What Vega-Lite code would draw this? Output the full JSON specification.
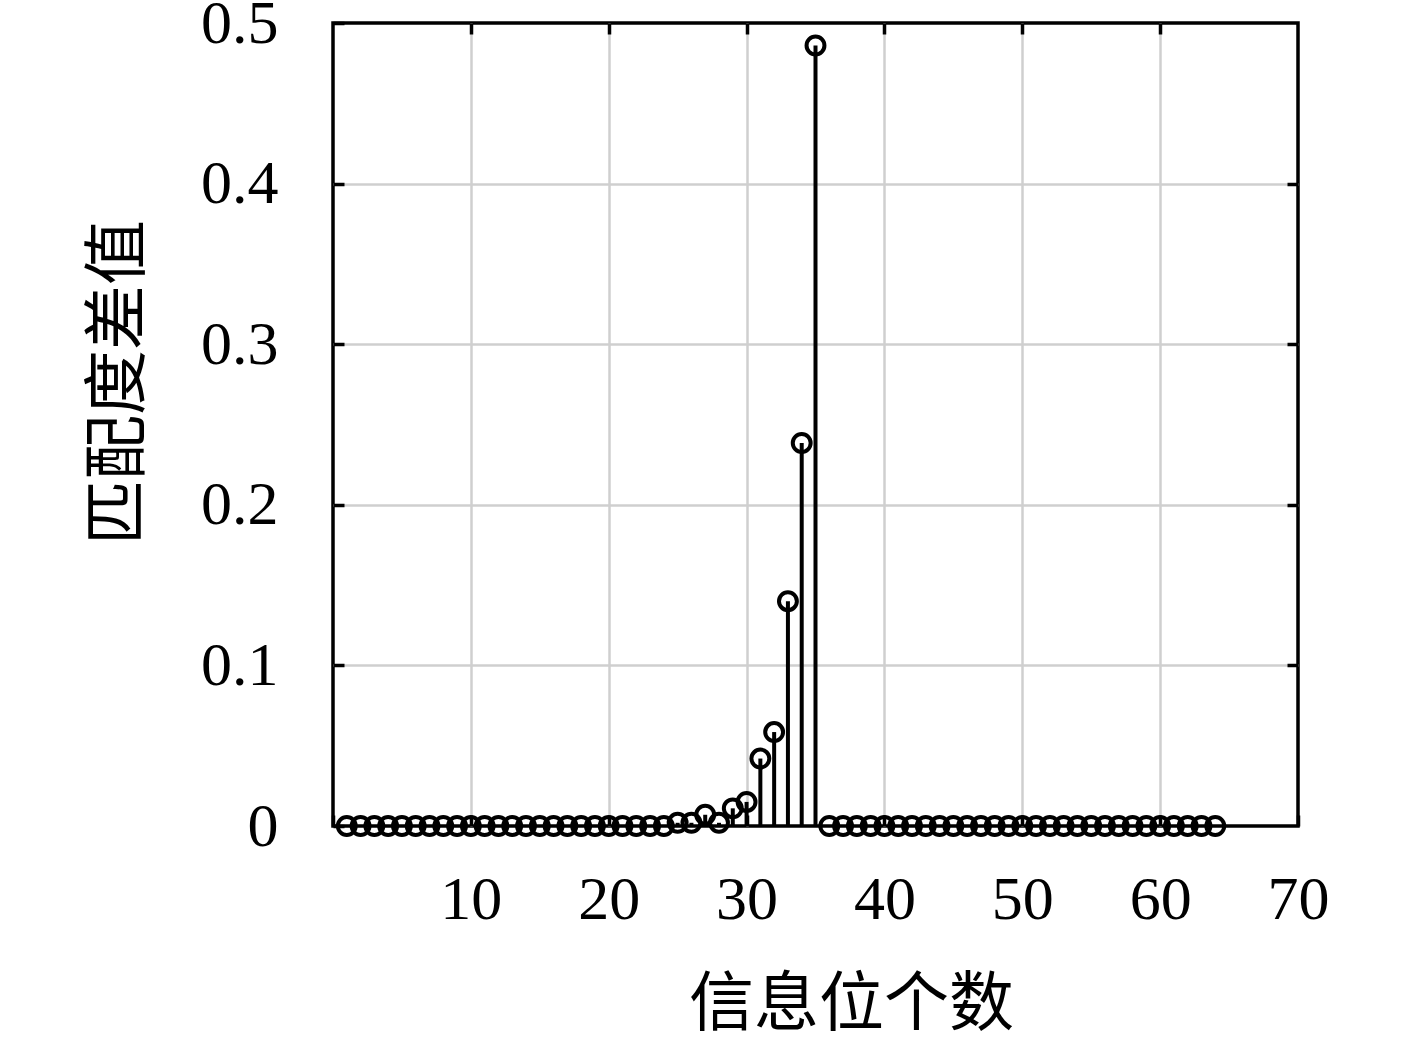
{
  "$schema": "https://vega.github.io/schema/vega-lite/v6.json",
  "width": 965,
  "height": 803,
  "autosize": "none",
  "padding": {"left": 333, "top": 23, "right": 119, "bottom": 213},
  "background": "white",
  "view": {"stroke": "#000000", "strokeWidth": 3.5},
  "config": {
    "view": {"stroke": "#000000", "strokeWidth": 3.5},
    "axis": {
      "labelFont": "Liberation Serif",
      "labelFontSize": 62,
      "labelColor": "#000000",
      "labelFlush": false,
      "titleFont": "Noto Sans CJK SC",
      "titleFontSize": 65,
      "titleFontWeight": "normal",
      "titleColor": "#000000",
      "domain": false,
      "tickColor": "#000000",
      "tickWidth": 3.5,
      "tickSize": -11,
      "gridColor": "#cfcfcf",
      "gridWidth": 2.5
    }
  },
  "data": {
    "values": [
      {"n": 1, "v": 0}, {"n": 2, "v": 0}, {"n": 3, "v": 0}, {"n": 4, "v": 0},
      {"n": 5, "v": 0}, {"n": 6, "v": 0}, {"n": 7, "v": 0}, {"n": 8, "v": 0},
      {"n": 9, "v": 0}, {"n": 10, "v": 0}, {"n": 11, "v": 0}, {"n": 12, "v": 0},
      {"n": 13, "v": 0}, {"n": 14, "v": 0}, {"n": 15, "v": 0}, {"n": 16, "v": 0},
      {"n": 17, "v": 0}, {"n": 18, "v": 0}, {"n": 19, "v": 0}, {"n": 20, "v": 0},
      {"n": 21, "v": 0}, {"n": 22, "v": 0}, {"n": 23, "v": 0}, {"n": 24, "v": 0},
      {"n": 25, "v": 0.002}, {"n": 26, "v": 0.002}, {"n": 27, "v": 0.007}, {"n": 28, "v": 0.002},
      {"n": 29, "v": 0.011}, {"n": 30, "v": 0.015}, {"n": 31, "v": 0.042}, {"n": 32, "v": 0.0585},
      {"n": 33, "v": 0.140}, {"n": 34, "v": 0.2385}, {"n": 35, "v": 0.486}, {"n": 36, "v": 0},
      {"n": 37, "v": 0}, {"n": 38, "v": 0}, {"n": 39, "v": 0}, {"n": 40, "v": 0},
      {"n": 41, "v": 0}, {"n": 42, "v": 0}, {"n": 43, "v": 0}, {"n": 44, "v": 0},
      {"n": 45, "v": 0}, {"n": 46, "v": 0}, {"n": 47, "v": 0}, {"n": 48, "v": 0},
      {"n": 49, "v": 0}, {"n": 50, "v": 0}, {"n": 51, "v": 0}, {"n": 52, "v": 0},
      {"n": 53, "v": 0}, {"n": 54, "v": 0}, {"n": 55, "v": 0}, {"n": 56, "v": 0},
      {"n": 57, "v": 0}, {"n": 58, "v": 0}, {"n": 59, "v": 0}, {"n": 60, "v": 0},
      {"n": 61, "v": 0}, {"n": 62, "v": 0}, {"n": 63, "v": 0}, {"n": 64, "v": 0}
    ]
  },
  "layer": [
    {
      "mark": {"type": "rule", "stroke": "#000000", "strokeWidth": 4},
      "encoding": {
        "x": {
          "field": "n", "type": "quantitative",
          "scale": {"domain": [0, 70], "nice": false, "zero": false},
          "axis": {
            "orient": "bottom",
            "title": "信息位个数",
            "grid": false,
            "values": [0, 10, 20, 30, 40, 50, 60, 70],
            "labelExpr": "datum.value == 0 ? '' : datum.label",
            "labelPadding": 54,
            "titleX": 518,
            "titleY": 178,
            "titleBaseline": "middle",
            "titleAnchor": "middle"
          }
        },
        "y": {
          "field": "v", "type": "quantitative",
          "scale": {"domain": [0, 0.5], "nice": false},
          "axis": {
            "orient": "left",
            "title": "匹配度差值",
            "grid": false,
            "values": [0, 0.1, 0.2, 0.3, 0.4, 0.5],
            "labelExpr": "datum.value == 0 ? '0' : format(datum.value, '.1f')",
            "labelPadding": 66,
            "titleX": -215,
            "titleY": 359,
            "titleBaseline": "middle",
            "titleAnchor": "middle"
          }
        },
        "y2": {"datum": 0}
      }
    },
    {
      "mark": {"type": "point", "shape": "circle", "filled": false, "stroke": "#000000", "fill": null, "strokeWidth": 4, "opacity": 1},
      "encoding": {
        "x": {
          "field": "n", "type": "quantitative",
          "axis": {"orient": "top", "title": null, "labels": false, "grid": true, "values": [10, 20, 30, 40, 50, 60]}
        },
        "y": {
          "field": "v", "type": "quantitative",
          "axis": {"orient": "right", "title": null, "labels": false, "grid": true, "values": [0.1, 0.2, 0.3, 0.4]}
        },
        "size": {"value": 320}
      }
    }
  ],
  "resolve": {"axis": {"x": "independent", "y": "independent"}}
}
